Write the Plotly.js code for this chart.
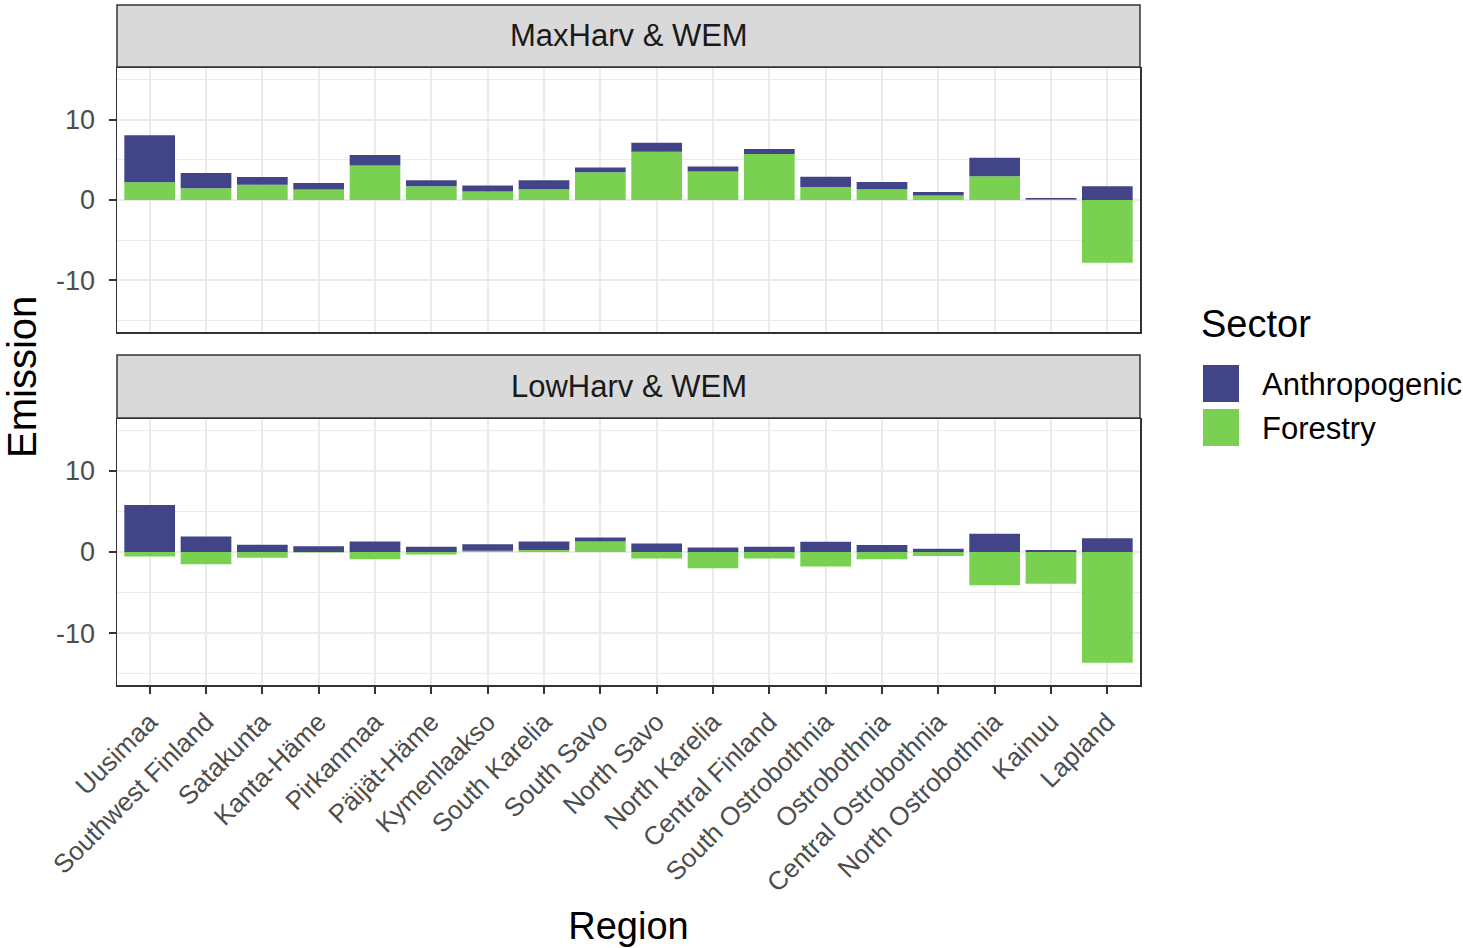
<!DOCTYPE html>
<html>
<head>
<meta charset="utf-8">
<script src="https://cdn.plot.ly/plotly-3.0.1.min.js"></script>
<style>
  html, body { margin: 0; padding: 0; background: #ffffff; }
  #chart { width: 1463px; height: 948px; }
</style>
</head>
<body>
<div id="chart"></div>
<script>
// ---------- data ----------
const regions = ["Uusimaa","Southwest Finland","Satakunta","Kanta-Häme","Pirkanmaa","Päijät-Häme","Kymenlaakso","South Karelia","South Savo","North Savo","North Karelia","Central Finland","South Ostrobothnia","Ostrobothnia","Central Ostrobothnia","North Ostrobothnia","Kainuu","Lapland"];

const panelTitles = ["MaxHarv & WEM", "LowHarv & WEM"];
const sectors = ["Anthropogenic", "Forestry"];
const sectorColors = ["#414487", "#7AD151"];

const maxAnthropogenic = [5.85, 1.9, 0.95, 0.8, 1.3, 0.75, 0.75, 1.1, 0.6, 1.1, 0.6, 0.65, 1.3, 0.9, 0.45, 2.3, 0.2, 1.7];
const maxForestry      = [2.2, 1.45, 1.9, 1.3, 4.3, 1.7, 1.05, 1.35, 3.45, 6.0, 3.55, 5.7, 1.6, 1.35, 0.55, 2.95, 0.05, -7.8];
const lowAnthropogenic = [5.8, 1.9, 0.9, 0.7, 1.3, 0.65, 0.8, 1.05, 0.5, 1.05, 0.55, 0.65, 1.25, 0.85, 0.4, 2.25, 0.25, 1.7];
const lowForestry      = [-0.55, -1.5, -0.7, -0.05, -0.9, -0.3, 0.15, 0.25, 1.3, -0.8, -2.0, -0.8, -1.8, -0.9, -0.5, -4.1, -3.9, -13.65];

const yTickVals = [-10, 0, 10];
const yTickText = ["-10", "0", "10"];
const xTitle = "Region";
const yTitle = "Emission";
const legendTitle = "Sector";

// ---------- geometry (pixels in a 1463x948 page) ----------
const W = 1463, H = 948;
const plotL = 117, plotR = 1140, plotT = 5, plotB = 685;
const px2x = p => (p - plotL) / (plotR - plotL);
const py2y = p => (plotB - p) / (plotB - plotT);

const FONT = "Liberation Sans, Arial, Helvetica, sans-serif";

// ---------- traces (Forestry first so it sits at the base of the stack) ----------
function bar(name, vals, color, xa, ya, rank) {
  return {
    type: "bar", x: regions, y: vals, name: name,
    marker: { color: color, line: { width: 0 } },
    xaxis: xa, yaxis: ya, showlegend: false, legendrank: rank,
    hoverinfo: "x+y+name"
  };
}
const data = [
  bar(sectors[1], maxForestry, sectorColors[1], "x", "y", 2),
  bar(sectors[0], maxAnthropogenic, sectorColors[0], "x", "y", 1),
  bar(sectors[1], lowForestry, sectorColors[1], "x2", "y2", 2),
  bar(sectors[0], lowAnthropogenic, sectorColors[0], "x2", "y2", 1)
];

// ---------- axes ----------
const yRange = [-16.4, 16.4];
const xRange = [-0.58, regions.length - 1 + 0.58];
const gridCol = "#EBEBEB", borderCol = "#333333";

function yAxis(domain, anchor) {
  return {
    domain: domain, anchor: anchor, range: yRange, fixedrange: true,
    tickmode: "array", tickvals: yTickVals, ticktext: yTickText,
    showgrid: true, gridcolor: gridCol, gridwidth: 2,
    minor: { tickmode: "array", tickvals: [-15, -5, 5, 15], showgrid: true, gridcolor: gridCol, gridwidth: 1, ticks: "" },
    zeroline: false, showline: true, mirror: true, linecolor: borderCol, linewidth: 1.5,
    ticks: "outside", ticklen: 7, tickwidth: 2, tickcolor: borderCol,
    tickfont: { family: FONT, size: 27, color: "#4D4D4D" },
    ticklabelstandoff: 8
  };
}
function xAxis(anchor, labels) {
  return {
    anchor: anchor, range: xRange, fixedrange: true, type: "category",
    categoryorder: "array", categoryarray: regions,
    showgrid: true, gridcolor: gridCol, gridwidth: 2,
    zeroline: false, showline: true, mirror: true, linecolor: borderCol, linewidth: 1.5,
    ticks: labels ? "outside" : "", ticklen: 7, tickwidth: 2, tickcolor: borderCol,
    showticklabels: labels, tickangle: -45,
    tickfont: { family: FONT, size: 26, color: "#4D4D4D" },
    ticklabelstandoff: 3,
    automargin: false
  };
}

const topDomain = [py2y(332), py2y(68)];
const botDomain = [py2y(685), py2y(419)];

const xa2 = xAxis("y2", true);
xa2.title = { text: xTitle, font: { family: FONT, size: 38, color: "#000000" }, standoff: 15 };

// ---------- strips, legend, y title ----------
const shapes = [];
const annotations = [];
const strips = [[5, 67], [355, 418]];
strips.forEach((s, i) => {
  shapes.push({
    type: "rect", xref: "paper", yref: "paper",
    x0: 0, x1: 1, y0: py2y(s[1]), y1: py2y(s[0]),
    fillcolor: "#D9D9D9", line: { color: borderCol, width: 1.5 }, layer: "below"
  });
  annotations.push({
    xref: "paper", yref: "paper", x: 0.5, y: py2y((s[0] + s[1]) / 2),
    text: panelTitles[i], showarrow: false, xanchor: "center", yanchor: "middle",
    font: { family: FONT, size: 31, color: "#1A1A1A" }
  });
});

annotations.push({
  xref: "paper", yref: "paper", x: px2x(22), y: py2y(377),
  text: yTitle, textangle: -90, showarrow: false, xanchor: "center", yanchor: "middle",
  font: { family: FONT, size: 40, color: "#000000" }
});

// legend (drawn as layout shapes + text so the keys match the reference size)
annotations.push({
  xref: "paper", yref: "paper", x: px2x(1199), y: py2y(324),
  text: legendTitle, showarrow: false, xanchor: "left", yanchor: "middle",
  font: { family: FONT, size: 38, color: "#000000" }
});
const keyTops = [365, 409];
sectors.forEach((name, i) => {
  const t = keyTops[i];
  shapes.push({
    type: "rect", xref: "paper", yref: "paper",
    x0: px2x(1203), x1: px2x(1239), y0: py2y(t + 37), y1: py2y(t),
    fillcolor: sectorColors[i], line: { width: 0 }
  });
  annotations.push({
    xref: "paper", yref: "paper", x: px2x(1260), y: py2y(t + 19),
    text: name, showarrow: false, xanchor: "left", yanchor: "middle",
    font: { family: FONT, size: 31, color: "#000000" }
  });
});

const layout = {
  width: W, height: H,
  margin: { l: plotL, r: W - plotR, t: plotT, b: H - plotB, pad: 0 },
  paper_bgcolor: "#FFFFFF", plot_bgcolor: "#FFFFFF",
  barmode: "relative", bargap: 0.1,
  showlegend: false,
  font: { family: FONT },
  xaxis: xAxis("y", false),
  yaxis: yAxis(topDomain, "x"),
  xaxis2: xa2,
  yaxis2: yAxis(botDomain, "x2"),
  shapes: shapes,
  annotations: annotations
};

Plotly.newPlot("chart", data, layout, { staticPlot: true, displayModeBar: false });
</script>
</body>
</html>
